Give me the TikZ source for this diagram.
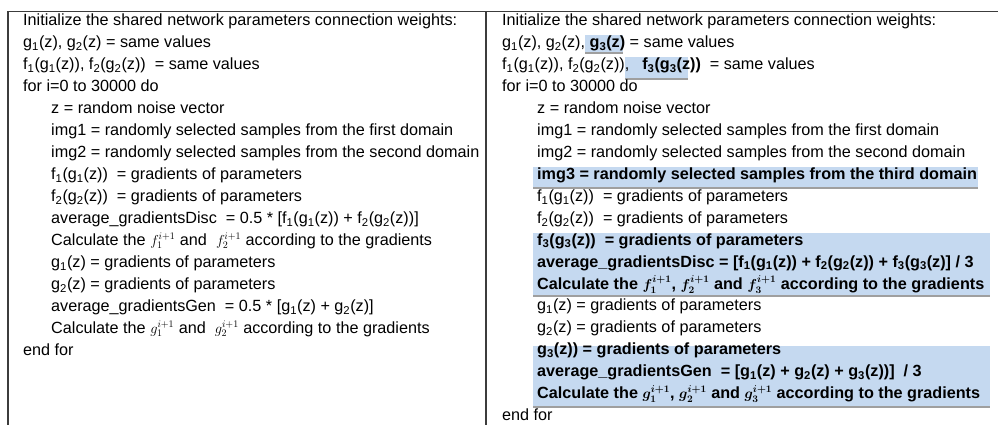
\documentclass[tikz,border=0pt]{standalone}
\usepackage{fontspec}
\setmainfont{Liberation Sans}
\usetikzlibrary{shadows}
\definecolor{hiblue}{RGB}{197,217,240}
\definecolor{framegray}{RGB}{60,60,60}
\newcommand{\sbx}[1]{\textsubscript{#1}}
\newcommand{\mth}[1]{{\fontsize{14}{15}\selectfont$#1$}}
\tikzset{
  txt/.style={anchor=mid west, inner sep=0pt, font=\fontsize{16.2}{18}\selectfont},
  hitxt/.style={txt, font=\fontsize{16.2}{18}\selectfont\bfseries\boldmath},
  hibox/.style={fill=hiblue, draw=none,
    drop shadow={shadow xshift=0pt, shadow yshift=-1.8pt, opacity=0.5, fill=black!75}},
  frame/.style={draw=framegray, line width=1.3pt}
}
\begin{document}
\begin{tikzpicture}[x=1pt, y=-1pt]
	\useasboundingbox (0,0) rectangle (998,425);
	
	% 1. table frame (open at the bottom and right)
	\draw[frame] (8,11.5) -- (998,11.5);
	\draw[frame] (8,11.5) -- (8,425);
	\draw[frame] (486,11.5) -- (486,425);
	
	% 2. highlighted parts of the right column
	\fill[hibox] (585,35) rectangle (623,52);
	\fill[hibox] (625,57) rectangle (688,78);
	\fill[hibox] (533,167) rectangle (978,187);
	\fill[hibox] (533,233) rectangle (990,295);
	\fill[hibox] (533,346) rectangle (990,406);
	
	% 3. left column: two domains
	\node[txt] (L1)  at (23,23)  {Initialize the shared network parameters connection weights:};
	\node[txt] (L2)  at (23,45)  {g\sbx{1}(z), g\sbx{2}(z) = same values};
	\node[txt] (L3)  at (23,67)  {f\sbx{1}(g\sbx{1}(z)), f\sbx{2}(g\sbx{2}(z)) \ = same values};
	\node[txt] (L4)  at (23,89)  {for i=0 to 30000 do};
	\node[txt] (L5)  at (51,111) {z = random noise vector};
	\node[txt] (L6)  at (51,133) {img1 = randomly selected samples from the first domain};
	\node[txt] (L7)  at (51,155) {img2 = randomly selected samples from the second domain};
	\node[txt] (L8)  at (51,177) {f\sbx{1}(g\sbx{1}(z)) \ = gradients of parameters};
	\node[txt] (L9)  at (51,199) {f\sbx{2}(g\sbx{2}(z)) \ = gradients of parameters};
	\node[txt] (L10) at (51,221) {average\_gradientsDisc \ = 0.5 * [f\sbx{1}(g\sbx{1}(z)) + f\sbx{2}(g\sbx{2}(z))]};
	\node[txt] (L11) at (51,243) {Calculate the \mth{f_1^{i+1}} and \ \mth{f_2^{i+1}} according to the gradients};
	\node[txt] (L12) at (51,265) {g\sbx{1}(z) = gradients of parameters};
	\node[txt] (L13) at (51,287) {g\sbx{2}(z) = gradients of parameters};
	\node[txt] (L14) at (51,309) {average\_gradientsGen \ = 0.5 * [g\sbx{1}(z) + g\sbx{2}(z)]};
	\node[txt] (L15) at (51,331) {Calculate the \mth{g_1^{i+1}} and \ \mth{g_2^{i+1}} according to the gradients};
	\node[txt] (L16) at (23,353) {end for};
	
	% 4. right column: three domains (new lines in bold)
	\node[txt] (R1)  at (502,23)  {Initialize the shared network parameters connection weights:};
	\node[txt] (R2)  at (502,45)  {g\sbx{1}(z), g\sbx{2}(z), \textbf{g\sbx{3}(z)} = same values};
	\node[txt] (R3)  at (502,67)  {f\sbx{1}(g\sbx{1}(z)), f\sbx{2}(g\sbx{2}(z)),\hspace{13pt}\textbf{f\sbx{3}(g\sbx{3}(z))} \ = same values};
	\node[txt] (R4)  at (502,89)  {for i=0 to 30000 do};
	\node[txt] (R5)  at (537,111) {z = random noise vector};
	\node[txt] (R6)  at (537,133) {img1 = randomly selected samples from the first domain};
	\node[txt] (R7)  at (537,155) {img2 = randomly selected samples from the second domain};
	\node[hitxt] (R8)  at (537,177) {img3 = randomly selected samples from the third domain};
	\node[txt] (R9)  at (537,199) {f\sbx{1}(g\sbx{1}(z)) \ = gradients of parameters};
	\node[txt] (R10) at (537,221) {f\sbx{2}(g\sbx{2}(z)) \ = gradients of parameters};
	\node[hitxt] (R11) at (537,242.5) {f\sbx{3}(g\sbx{3}(z)) \ = gradients of parameters};
	\node[hitxt] (R12) at (537,264.4) {average\_gradientsDisc = [f\sbx{1}(g\sbx{1}(z)) + f\sbx{2}(g\sbx{2}(z)) + f\sbx{3}(g\sbx{3}(z)] / 3};
	\node[hitxt] (R13) at (537,286.4) {Calculate the \mth{f_{1\vphantom{(}}^{i+1}}, \mth{f_{2\vphantom{(}}^{i+1}} and \mth{f_{3\vphantom{(}}^{i+1}} according to the gradients};
	\node[txt] (R14) at (537,308.3) {g\sbx{1}(z) = gradients of parameters};
	\node[txt] (R15) at (537,330.2) {g\sbx{2}(z) = gradients of parameters};
	\node[hitxt] (R16) at (537,352.2) {g\sbx{3}(z)) = gradients of parameters};
	\node[hitxt] (R17) at (537,374.1) {average\_gradientsGen \ = [g\sbx{1}(z) + g\sbx{2}(z) + g\sbx{3}(z))] \ / 3};
	\node[hitxt] (R18) at (537,396.1) {Calculate the \mth{g_{1\vphantom{(}}^{i+1}}, \mth{g_{2\vphantom{(}}^{i+1}} and \mth{g_{3\vphantom{(}}^{i+1}} according to the gradients};
	\node[txt] (R19) at (502,418) {end for};
\end{tikzpicture}
\end{document}
